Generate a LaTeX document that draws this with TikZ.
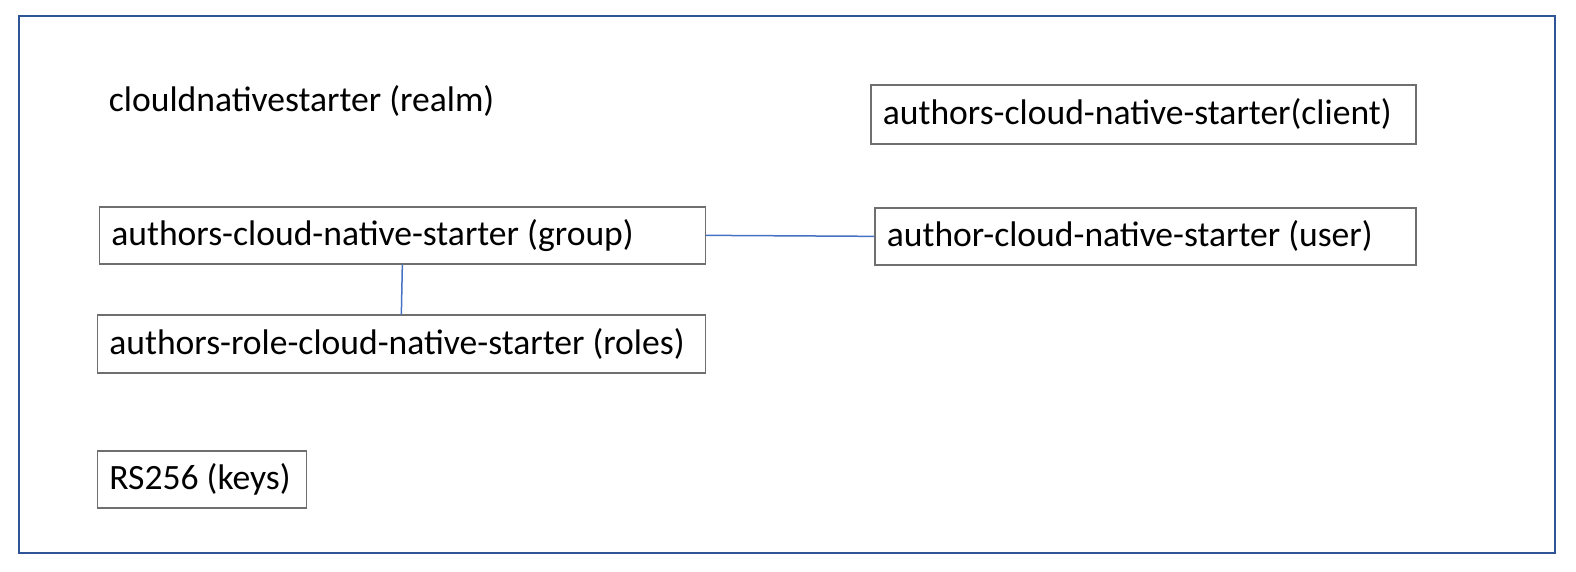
\documentclass[tikz,border=0pt]{standalone}
\usepackage{fontspec}
\setmainfont{Carlito}
\usetikzlibrary{positioning}
\definecolor{framecol}{HTML}{2F5597}
\definecolor{linkcol}{HTML}{4472C4}
\definecolor{boxcol}{HTML}{6F6F6F}

\begin{document}
\begin{tikzpicture}[x=0.5pt, y=-0.5pt,
    box/.style={draw=boxcol, line width=0.85pt, anchor=north west, align=left,
        inner xsep=6pt, inner ysep=0pt, font=\fontsize{17.8}{21}\selectfont,
        execute at begin node={\spaceskip=0pt\xspaceskip=0pt}},
    link/.style={draw=linkcol, line width=0.75pt}]
    \useasboundingbox (0,0) rectangle (1576,572);
    % Realm frame
    \draw[framecol, line width=1pt] (19,16) rectangle (1555,553);
    \node[anchor=west, inner sep=0pt, font=\fontsize{17.8}{21}\selectfont] (realm) at (108.5,101) {clouldnativestarter (realm)};

    % Keycloak objects
    \node[box, text width=260.5pt, minimum height=29.5pt] (client) at (870,84) {authors-cloud-native-starter(client)};
    \node[box, text width=291pt, minimum height=28.5pt] (group) at (98.5,206) {authors-cloud-native-starter (group)};
    \node[box, text width=258.5pt, minimum height=28.5pt] (user) at (874,207) {author-cloud-native-starter (user)};
    \node[box, text width=292pt, minimum height=29pt] (roles) at (96.5,314.5) {authors-role-cloud-native-starter (roles)};
    \node[box, text width=92.5pt, minimum height=28.5pt] (keys) at (96.5,450) {RS256 (keys)};

    % Links
    \draw[link] (group.east) -- (user.west);
    \draw[link] (group.south) -- (roles.north);
\end{tikzpicture}
\end{document}
